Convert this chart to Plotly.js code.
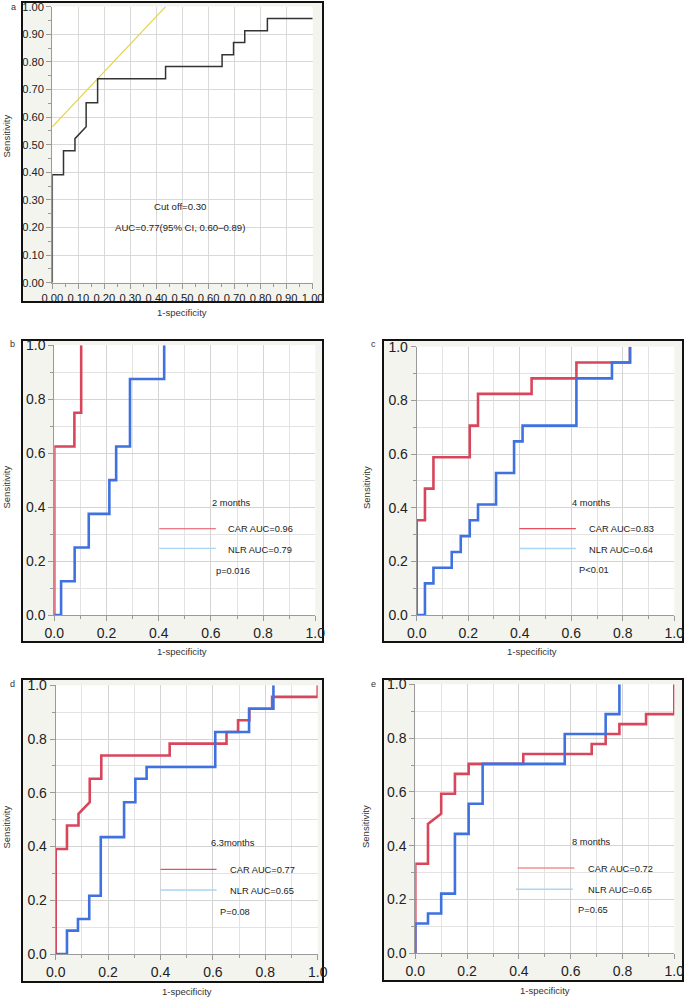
<!DOCTYPE html>
<html>
<head>
<meta charset="utf-8">
<script src="https://cdn.plot.ly/plotly-3.0.1.min.js"></script>
<style>html,body{margin:0;padding:0;background:#fff;}#chart{width:685px;height:998px;}</style>
</head>
<body>
<div id="chart"></div>
<script>
// ---------------- DATA (1-specificity, sensitivity) ----------------
// Panel a: overall ROC
const rocA_fpr = [0, 0, 0.043, 0.043, 0.087, 0.087, 0.130, 0.130, 0.174, 0.174, 0.435, 0.435, 0.652, 0.652, 0.696, 0.696, 0.739, 0.739, 0.826, 0.826, 1.0];
const rocA_tpr = [0, 0.391, 0.391, 0.478, 0.478, 0.522, 0.565, 0.652, 0.652, 0.739, 0.739, 0.783, 0.783, 0.826, 0.826, 0.870, 0.870, 0.913, 0.913, 0.957, 0.957];
// Panel a: cut-off tangent line
const cutA_x = [0, 0.435];
const cutA_y = [0.565, 1.0];

// Panel b: 2 months
const carB_fpr = [0, 0, 0.077, 0.077, 0.103, 0.103];
const carB_tpr = [0, 0.625, 0.625, 0.75, 0.75, 1.0];
const nlrB_fpr = [0, 0.026, 0.026, 0.078, 0.078, 0.132, 0.132, 0.211, 0.211, 0.237, 0.237, 0.29, 0.29, 0.421, 0.421];
const nlrB_tpr = [0, 0, 0.125, 0.125, 0.25, 0.25, 0.375, 0.375, 0.5, 0.5, 0.625, 0.625, 0.875, 0.875, 1.0];

// Panel c: 4 months
const carC_fpr = [0, 0, 0.032, 0.032, 0.065, 0.065, 0.206, 0.206, 0.238, 0.238, 0.446, 0.446, 0.62, 0.62, 0.828, 0.828];
const carC_tpr = [0, 0.353, 0.353, 0.471, 0.471, 0.588, 0.588, 0.706, 0.706, 0.824, 0.824, 0.882, 0.882, 0.941, 0.941, 1.0];
const nlrC_fpr = [0, 0.032, 0.032, 0.065, 0.065, 0.136, 0.136, 0.171, 0.171, 0.206, 0.206, 0.238, 0.238, 0.308, 0.308, 0.378, 0.378, 0.411, 0.411, 0.62, 0.62, 0.758, 0.758, 0.828, 0.828];
const nlrC_tpr = [0, 0, 0.118, 0.118, 0.176, 0.176, 0.235, 0.235, 0.294, 0.294, 0.353, 0.353, 0.412, 0.412, 0.529, 0.529, 0.647, 0.647, 0.706, 0.706, 0.882, 0.882, 0.941, 0.941, 1.0];

// Panel d: 6.3 months
const carD_fpr = [0, 0, 0.043, 0.043, 0.087, 0.087, 0.130, 0.130, 0.174, 0.174, 0.435, 0.435, 0.652, 0.652, 0.696, 0.696, 0.739, 0.739, 0.826, 0.826, 1.0, 1.0];
const carD_tpr = [0, 0.391, 0.391, 0.478, 0.478, 0.522, 0.565, 0.652, 0.652, 0.739, 0.739, 0.783, 0.783, 0.826, 0.826, 0.870, 0.870, 0.913, 0.913, 0.957, 0.957, 1.0];
const nlrD_fpr = [0, 0.043, 0.043, 0.085, 0.085, 0.128, 0.128, 0.172, 0.172, 0.261, 0.261, 0.304, 0.304, 0.347, 0.347, 0.609, 0.609, 0.738, 0.738, 0.831, 0.831];
const nlrD_tpr = [0, 0, 0.087, 0.087, 0.130, 0.130, 0.217, 0.217, 0.435, 0.435, 0.565, 0.565, 0.652, 0.652, 0.696, 0.696, 0.826, 0.826, 0.913, 0.913, 1.0];

// Panel e: 8 months
const carE_fpr = [0, 0, 0.049, 0.049, 0.1, 0.1, 0.153, 0.153, 0.206, 0.206, 0.417, 0.417, 0.681, 0.681, 0.735, 0.735, 0.788, 0.788, 0.891, 0.891, 1.0, 1.0];
const carE_tpr = [0, 0.333, 0.333, 0.481, 0.519, 0.593, 0.593, 0.667, 0.667, 0.704, 0.704, 0.741, 0.741, 0.778, 0.778, 0.815, 0.815, 0.852, 0.852, 0.889, 0.889, 1.0];
const nlrE_fpr = [0, 0, 0.049, 0.049, 0.1, 0.1, 0.153, 0.153, 0.206, 0.206, 0.26, 0.26, 0.577, 0.577, 0.735, 0.735, 0.788, 0.788];
const nlrE_tpr = [0, 0.111, 0.111, 0.148, 0.148, 0.222, 0.222, 0.444, 0.444, 0.556, 0.556, 0.704, 0.704, 0.815, 0.815, 0.889, 0.889, 1.0];

// Text labels
const panelLetters = ['a', 'b', 'c', 'd', 'e'];
const periodLabels = ['2 months', '4 months', '6.3months', '8 months'];
const carLabels = ['CAR AUC=0.96', 'CAR AUC=0.83', 'CAR AUC=0.77', 'CAR AUC=0.72'];
const nlrLabels = ['NLR AUC=0.79', 'NLR AUC=0.64', 'NLR AUC=0.65', 'NLR AUC=0.65'];
const pLabels = ['p=0.016', 'P<0.01', 'P=0.08', 'P=0.65'];
const cutoffLabel = 'Cut off=0.30';
const aucLabelA = 'AUC=0.77(95% CI, 0.60\u20130.89)';
const xTitle = '1-specificity';
const yTitle = 'Sensitivity';

// ---------------- LAYOUT (pixel geometry) ----------------
const W = 685, H = 998;
const FONT = 'Liberation Sans, Arial, Helvetica, sans-serif';
const RED = '#d8465c', BLUE = '#3f72e0';
const px = v => v / W;
const py = v => 1 - v / H;

// plot areas [x0, x1, ytop, ybottom], frames [x0, x1, ytop, ybottom]
const panels = [
  {plot: [52.3, 312.7, 6.7, 282.7], frame: [22, 323, 2, 302], letter: [13, 7], ytitle: [5.5, 136], xtitle: [182, 312]},
  {plot: [54.3, 315.3, 345.3, 615], frame: [22, 323, 340, 642], letter: [12, 344], ytitle: [5.5, 487], xtitle: [182, 651]},
  {plot: [416.7, 674.3, 346.7, 615], frame: [383, 683, 340, 642], letter: [373, 344], ytitle: [366, 487], xtitle: [532, 651]},
  {plot: [55.7, 317.7, 685.3, 954], frame: [22, 323, 679, 982], letter: [12, 684], ytitle: [5.5, 827], xtitle: [187, 991]},
  {plot: [415.3, 674.3, 684.3, 953.3], frame: [383, 683, 679, 981], letter: [374, 684], ytitle: [365, 827], xtitle: [545, 990]}
];

const layout = {
  width: W, height: H,
  margin: {l: 0, r: 0, t: 0, b: 0},
  paper_bgcolor: '#ffffff',
  plot_bgcolor: 'rgba(0,0,0,0)',
  showlegend: false,
  font: {family: FONT, color: '#222'},
  shapes: [],
  annotations: []
};

// frames and white plot areas
panels.forEach(p => {
  layout.shapes.push({type: 'rect', xref: 'paper', yref: 'paper', layer: 'below',
    x0: px(p.frame[0]), x1: px(p.frame[1]), y0: py(p.frame[3]), y1: py(p.frame[2]),
    fillcolor: '#f4f4ef', line: {color: '#111', width: 2}});
});
panels.forEach(p => {
  layout.shapes.push({type: 'rect', xref: 'paper', yref: 'paper', layer: 'below',
    x0: px(p.plot[0]), x1: px(p.plot[1]), y0: py(p.plot[3]), y1: py(p.plot[2]),
    fillcolor: '#ffffff', line: {width: 0}});
});

panels.forEach((p, i) => {
  const n = i === 0 ? '' : String(i + 1);
  const isA = i === 0;
  const axCommon = {
    range: [0, 1], fixedrange: true, zeroline: false,
    showline: true, linecolor: '#9a9a9a', linewidth: 1,
    ticks: 'outside', ticklen: 5, tickcolor: '#9a9a9a', tickwidth: 1,
    showgrid: true, gridcolor: isA ? '#d9d9d9' : '#d4d4d4', gridwidth: 1,
    tick0: 0, dtick: isA ? 0.1 : 0.2,
    tickformat: isA ? '.2f' : '.1f',
    tickfont: {family: FONT, size: isA ? 11.2 : 14, color: '#222'},
    minor: isA
      ? {dtick: 0.05, ticks: 'outside', ticklen: 3, tickcolor: '#9a9a9a', showgrid: false}
      : {dtick: 0.1, ticks: 'outside', ticklen: 3, tickcolor: '#9a9a9a', showgrid: true, gridcolor: '#e3e3e3'}
  };
  layout['xaxis' + n] = Object.assign({}, axCommon, {domain: [px(p.plot[0]), px(p.plot[1])], anchor: 'y' + n});
  layout['yaxis' + n] = Object.assign({}, axCommon, {domain: [py(p.plot[3]), py(p.plot[2])], anchor: 'x' + n});

  // panel letter
  layout.annotations.push({xref: 'paper', yref: 'paper', x: px(p.letter[0]), y: py(p.letter[1]),
    text: panelLetters[i], showarrow: false, xanchor: 'center', yanchor: 'middle',
    font: {family: FONT, size: 9, color: '#333'}});
  // axis titles
  layout.annotations.push({xref: 'paper', yref: 'paper', x: px(p.ytitle[0]), y: py(p.ytitle[1]),
    text: yTitle, textangle: -90, showarrow: false, xanchor: 'center', yanchor: 'middle',
    font: {family: FONT, size: 9.5, color: '#333'}});
  layout.annotations.push({xref: 'paper', yref: 'paper', x: px(p.xtitle[0]), y: py(p.xtitle[1]),
    text: xTitle, showarrow: false, xanchor: 'center', yanchor: 'middle',
    font: {family: FONT, size: 9.5, color: '#333'}});
});

// Panel a texts
layout.annotations.push({xref: 'x', yref: 'y', x: 0.49, y: 0.277, text: cutoffLabel, showarrow: false,
  xanchor: 'center', yanchor: 'middle', font: {family: FONT, size: 9.6, color: '#222'}});
layout.annotations.push({xref: 'x', yref: 'y', x: 0.49, y: 0.2, text: aucLabelA, showarrow: false,
  xanchor: 'center', yanchor: 'middle', font: {family: FONT, size: 9.6, color: '#222'}});

// Legend blocks for b-e (positions in each subplot's data coords)
const legendPos = [
  {title: [0.679, 0.417], line: [0.402, 0.619], redY: 0.320, blueY: 0.247, txtX: 0.658, carY: 0.318, nlrY: 0.241, pX: 0.613, pY: 0.164},
  {title: [0.679, 0.419], line: [0.398, 0.618], redY: 0.322, blueY: 0.248, txtX: 0.660, carY: 0.319, nlrY: 0.241, pX: 0.622, pY: 0.168},
  {title: [0.678, 0.412], line: [0.400, 0.614], redY: 0.315, blueY: 0.238, txtX: 0.656, carY: 0.311, nlrY: 0.234, pX: 0.618, pY: 0.158},
  {title: [0.681, 0.414], line: [0.395, 0.614], redY: 0.317, blueY: 0.238, txtX: 0.658, carY: 0.314, nlrY: 0.235, pX: 0.620, pY: 0.161}
];
legendPos.forEach((L, k) => {
  const n = String(k + 2);
  const xr = 'x' + n, yr = 'y' + n;
  const f = {family: FONT, size: 9.3, color: '#222'};
  layout.annotations.push({xref: xr, yref: yr, x: L.title[0], y: L.title[1], text: periodLabels[k], showarrow: false, xanchor: 'center', yanchor: 'middle', font: f});
  layout.annotations.push({xref: xr, yref: yr, x: L.txtX, y: L.carY, text: carLabels[k], showarrow: false, xanchor: 'left', yanchor: 'middle', font: f});
  layout.annotations.push({xref: xr, yref: yr, x: L.txtX, y: L.nlrY, text: nlrLabels[k], showarrow: false, xanchor: 'left', yanchor: 'middle', font: f});
  layout.annotations.push({xref: xr, yref: yr, x: L.pX, y: L.pY, text: pLabels[k], showarrow: false, xanchor: 'left', yanchor: 'middle', font: f});
  layout.shapes.push({type: 'line', xref: xr, yref: yr, x0: L.line[0], x1: L.line[1], y0: L.redY, y1: L.redY,
    line: {color: k === 3 ? '#f29090' : '#e8505e', width: k === 3 ? 1.6 : 1.1}});
  layout.shapes.push({type: 'line', xref: xr, yref: yr, x0: L.line[0] - (k === 3 ? 0.006 : 0), x1: L.line[1] - (k === 3 ? 0.006 : 0), y0: L.blueY, y1: L.blueY,
    line: {color: '#a9d6f2', width: 1.4}});
});

// ---------------- TRACES ----------------
const mk = (x, y, xa, ya, color, width) => ({
  type: 'scatter', mode: 'lines', x: x, y: y, xaxis: xa, yaxis: ya,
  line: {color: color, width: width, shape: 'linear'}, hoverinfo: 'skip'
});
const traces = [
  mk(cutA_x, cutA_y, 'x', 'y', '#e4d445', 1.2),
  mk(rocA_fpr, rocA_tpr, 'x', 'y', '#333333', 1.5),
  mk(carB_fpr, carB_tpr, 'x2', 'y2', RED, 2.6),
  mk(nlrB_fpr, nlrB_tpr, 'x2', 'y2', BLUE, 2.6),
  mk(carC_fpr, carC_tpr, 'x3', 'y3', RED, 2.6),
  mk(nlrC_fpr, nlrC_tpr, 'x3', 'y3', BLUE, 2.6),
  mk(carD_fpr, carD_tpr, 'x4', 'y4', RED, 2.6),
  mk(nlrD_fpr, nlrD_tpr, 'x4', 'y4', BLUE, 2.6),
  mk(carE_fpr, carE_tpr, 'x5', 'y5', RED, 2.6),
  mk(nlrE_fpr, nlrE_tpr, 'x5', 'y5', BLUE, 2.6)
];

Plotly.newPlot('chart', traces, layout, {staticPlot: true, displayModeBar: false});
</script>
</body>
</html>
